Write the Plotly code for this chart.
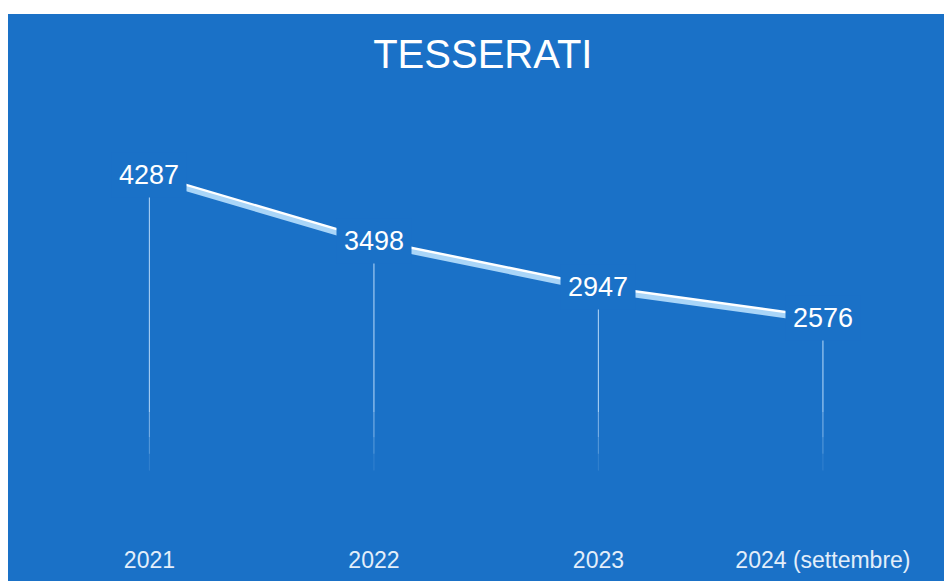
import plotly.graph_objects as go

# dati
anni = ['2021', '2022', '2023', '2024 (settembre)']
tesserati = [4287, 3498, 2947, 2576]

BLU = '#1a71c7'
OMBRA = '#a9d5f8'
GOCCIA = 'rgba(205,232,255,{})'

W, H = 944, 573  # la pagina aggiunge 8px di margine
Y_RANGE = [-56.5, 6283.5]
SHIFT = 36  # spostamento dell'ombra (circa 3px)

fig = go.Figure()

# linee verticali sotto le etichette, che sfumano verso il basso
for anno, v in zip(anni, tesserati):
    tratti = [(v - 260, 1450, 0.75), (1450, 1150, 0.5), (1150, 950, 0.3), (950, 750, 0.12)]
    for alto, basso, alpha in tratti:
        fig.add_trace(go.Scatter(
            x=[anno, anno], y=[alto, basso],
            mode='lines',
            line=dict(color=GOCCIA.format(alpha), width=1.2),
            hoverinfo='skip', showlegend=False
        ))

# ombra azzurra della linea
fig.add_trace(go.Scatter(
    x=anni, y=tesserati, mode='lines',
    line=dict(color=OMBRA, width=5),
    yaxis='y2', hoverinfo='skip', showlegend=False
))

# linea bianca
fig.add_trace(go.Scatter(
    x=anni, y=tesserati, mode='lines',
    line=dict(color='white', width=4),
    showlegend=False
))

# etichette dei valori con sfondo blu che interrompe la linea
for i, v in enumerate(tesserati):
    fig.add_annotation(
        x=i, y=v, text=str(v), showarrow=False,
        font=dict(family='Liberation Sans', size=27, color='white'),
        bgcolor=BLU, borderpad=7
    )

fig.update_layout(
    width=W, height=H,
    margin=dict(l=0, r=0, t=0, b=0),
    paper_bgcolor='white',
    plot_bgcolor='rgba(0,0,0,0)',
    font=dict(family='Liberation Sans'),
    title=dict(
        text='TESSERATI', x=0.503, xanchor='center',
        y=1 - 46 / H, yanchor='middle',
        font=dict(size=40, color='white', family='Liberation Sans')
    ),
    xaxis=dict(
        type='category',
        domain=[0, 1], range=[-0.630, 3.575],
        showgrid=False, zeroline=False, showline=False,
        ticks='', ticklabelstandoff=6,
        tickfont=dict(size=23, color='#e3eefa')
    ),
    yaxis=dict(
        domain=[(H - 530) / H, 1], range=Y_RANGE,
        visible=False, showgrid=False, zeroline=False
    ),
    yaxis2=dict(
        domain=[(H - 530) / H, 1], overlaying='y',
        range=[Y_RANGE[0] + SHIFT, Y_RANGE[1] + SHIFT],
        visible=False, showgrid=False, zeroline=False
    ),
    shapes=[dict(
        type='rect', xref='paper', yref='paper',
        x0=0, x1=1, y0=0, y1=(H - 6) / H,
        fillcolor=BLU, line=dict(width=0), layer='below'
    )]
)

fig.write_html("out.html")
